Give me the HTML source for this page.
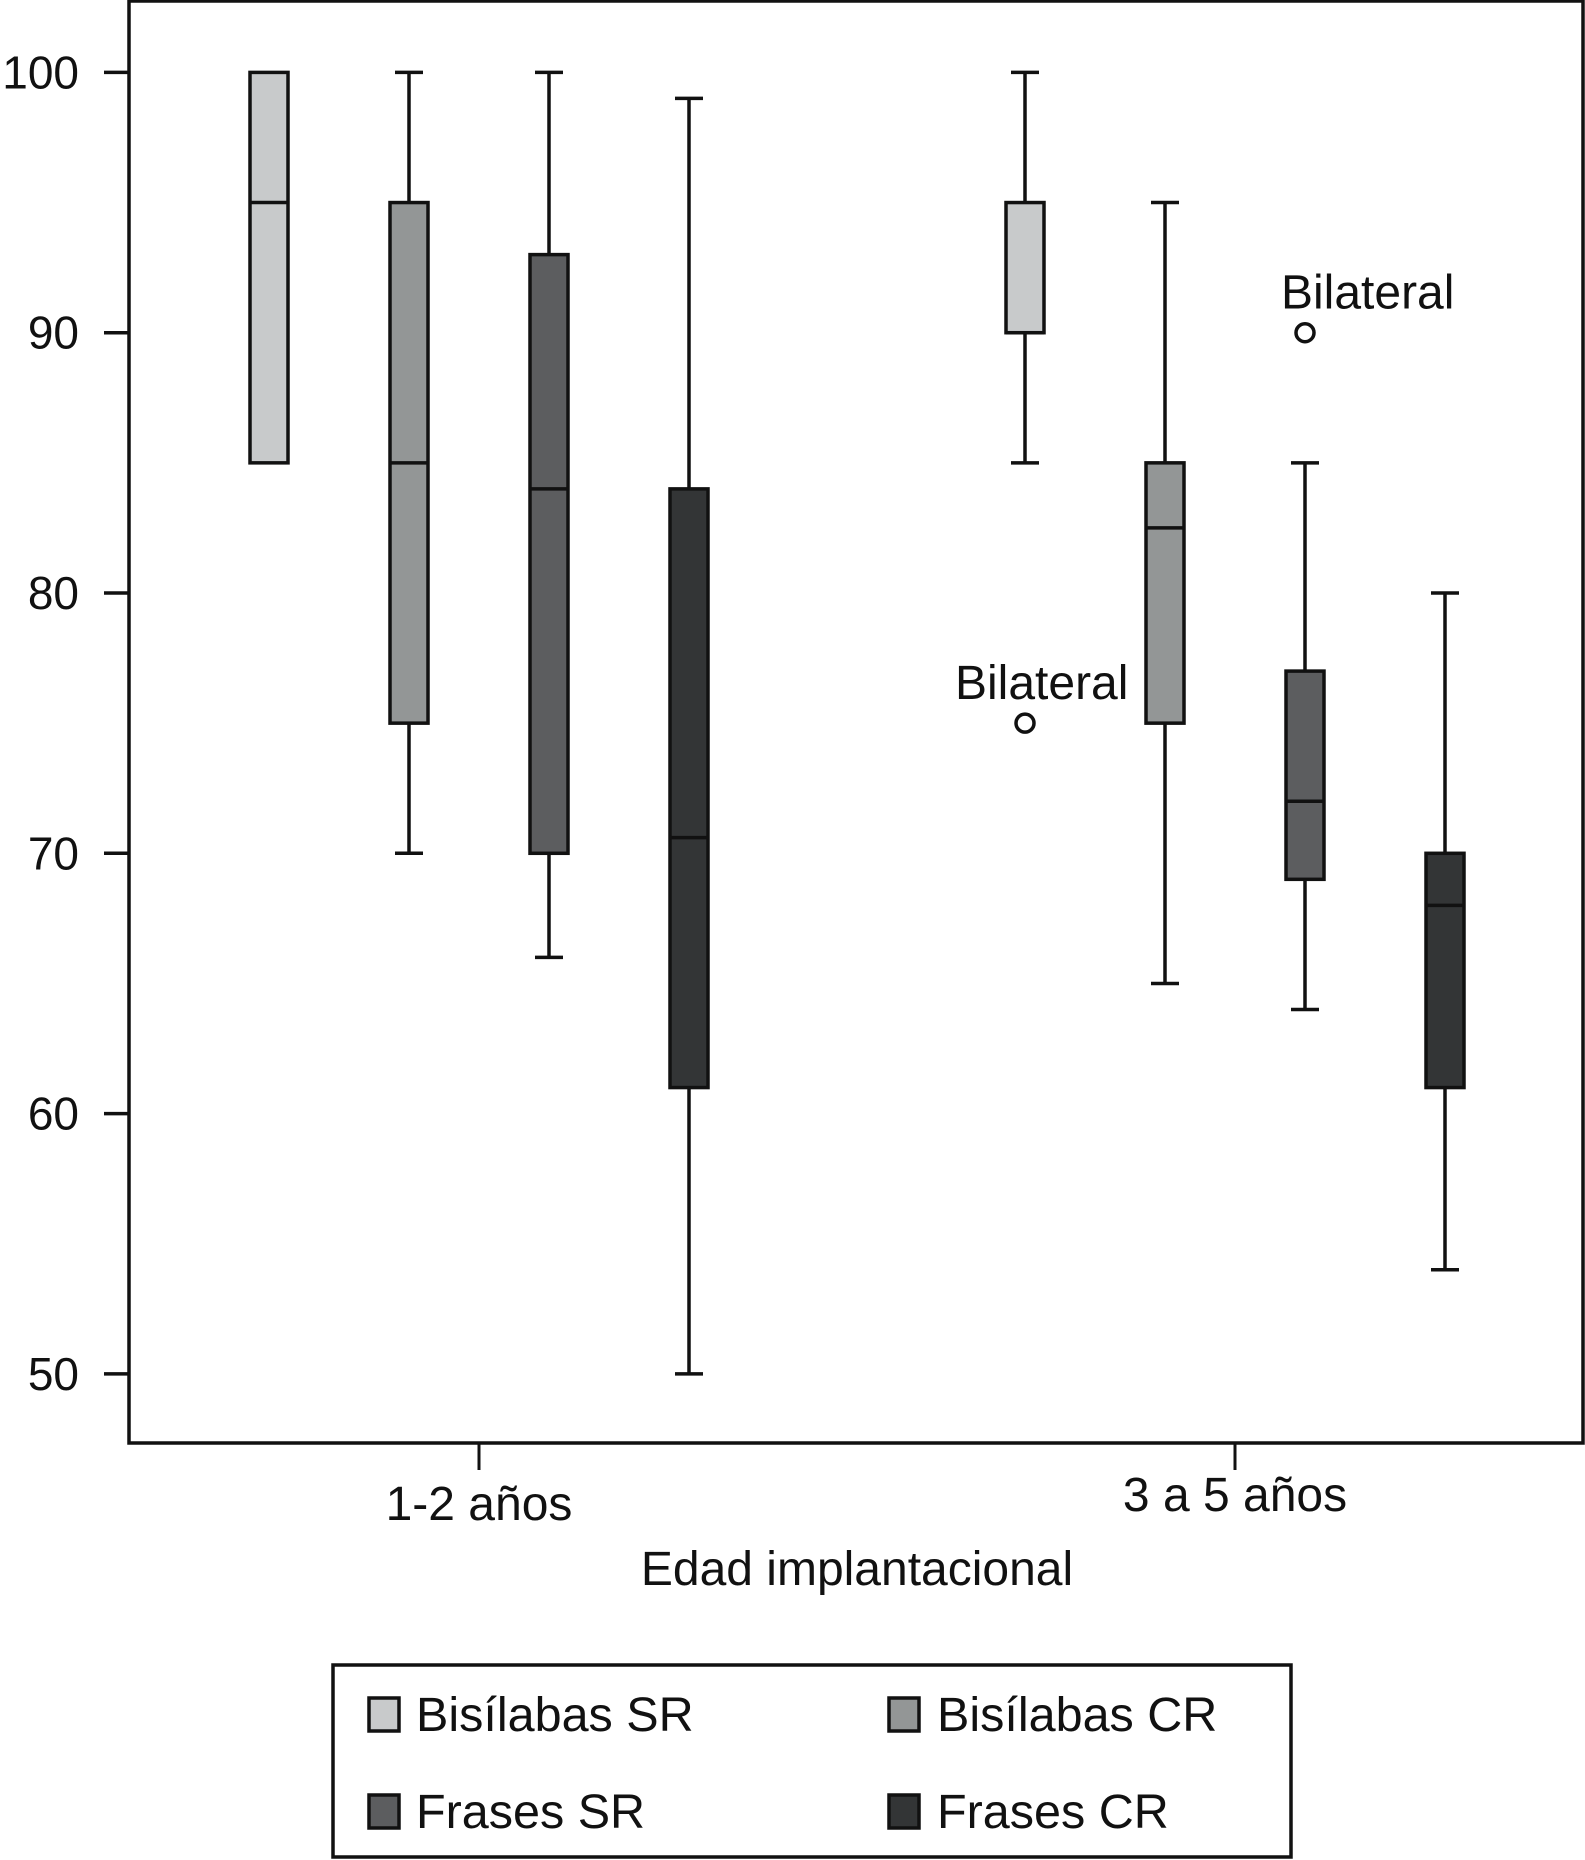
<!DOCTYPE html>
<html><head><meta charset="utf-8"><style>
body{margin:0;background:#fff}
svg{display:block;font-family:"Liberation Sans",sans-serif}
</style></head><body>
<svg id="chart" width="1585" height="1860" viewBox="0 0 1585 1860" xmlns="http://www.w3.org/2000/svg">
<rect x="129" y="1" width="1454" height="1442" fill="#fff" stroke="#111" stroke-width="3.5"/>
<g id="yaxis"></g>
<g id="xaxis"></g>
<g id="boxes"></g>
<text x="857" y="1585" font-size="48" text-anchor="middle" fill="#111">Edad implantacional</text>
<g>
<rect x="333" y="1665" width="958" height="192" fill="#fff" stroke="#111" stroke-width="3.5"/>
<g><rect x="369" y="1698" width="30" height="33" fill="#c8cacb" stroke="#111" stroke-width="3.5"/><text x="416" y="1731" font-size="48.5" fill="#111">Bisílabas SR</text></g>
<g><rect x="889" y="1698" width="30" height="33" fill="#939696" stroke="#111" stroke-width="3.5"/><text x="937" y="1731" font-size="48.5" fill="#111">Bisílabas CR</text></g>
<g><rect x="369" y="1795" width="30" height="33" fill="#5c5d5f" stroke="#111" stroke-width="3.5"/><text x="416" y="1828" font-size="48.5" fill="#111">Frases SR</text></g>
<g><rect x="889" y="1795" width="30" height="33" fill="#333536" stroke="#111" stroke-width="3.5"/><text x="937" y="1828" font-size="48.5" fill="#111">Frases CR</text></g>
</g>
</svg>
<script>
const categories = ["1-2 años", "3 a 5 años"];
const series = ["Bisílabas SR", "Bisílabas CR", "Frases SR", "Frases CR"];
const yTicks = [50, 60, 70, 80, 90, 100];
// per group, per series: [min, q1, median, q3, max]
const group1Stats = [[85, 85, 95, 100, 100], [70, 75, 85, 95, 100], [66, 70, 84, 93, 100], [50, 61, 70.6, 84, 99]];
const group2Stats = [[85, 90, 90, 95, 100], [65, 75, 82.5, 85, 95], [64, 69, 72, 77, 85], [54, 61, 68, 70, 80]];
const outlierGroup = [1, 1];
const outlierSeries = [0, 2];
const outlierValues = [75, 90];
const outlierLabels = ["Bilateral", "Bilateral"];
const colors = ["#c8cacb", "#939696", "#5c5d5f", "#333536"];

const NS = "http://www.w3.org/2000/svg";
const y = v => 72.4 + (100 - v) * 26.03;
const groupCenter = i => 479 + i * 756;
const boxX = (g, s) => groupCenter(g) + (s - 1.5) * 140;
function mk(tag, attrs, parent, text) {
  const e = document.createElementNS(NS, tag);
  for (const k in attrs) e.setAttribute(k, attrs[k]);
  if (text !== undefined) e.textContent = text;
  parent.appendChild(e);
  return e;
}
const yaxis = document.getElementById('yaxis');
yTicks.forEach(t => {
  const l = mk('line', {x1: 104, x2: 129, y1: y(t), y2: y(t), stroke: '#111', 'stroke-width': 3.5}, yaxis);
  
  
  const tx = mk('text', {x: 79, y: y(t) + 16, 'font-size': 46, 'text-anchor': 'end', fill: '#111'}, yaxis, String(t));
  
  
});
const xaxis = document.getElementById('xaxis');
categories.forEach((c, i) => {
  const cx = groupCenter(i);
  const l = mk('line', {x1: cx, x2: cx, y1: 1443, y2: 1470, stroke: '#111', 'stroke-width': 3}, xaxis);
  
  
  const tx = mk('text', {x: cx, y: i === 0 ? 1520 : 1511, 'font-size': 48, 'text-anchor': 'middle', fill: '#111'}, xaxis, c);
  
  
});
const boxes = document.getElementById('boxes');
[group1Stats, group2Stats].forEach((stats, g) => {
  stats.forEach((st, s) => {
    const cx = boxX(g, s), w = 38;
    const grp = mk('g', {}, boxes);
    
    
    const [mn, q1, md, q3, mx] = st;
    if (mx > q3) {
      mk('line', {x1: cx, x2: cx, y1: y(mx), y2: y(q3), stroke: '#111', 'stroke-width': 3.5}, grp);
      mk('line', {x1: cx - 14, x2: cx + 14, y1: y(mx), y2: y(mx), stroke: '#111', 'stroke-width': 3.5}, grp);
    }
    if (mn < q1) {
      mk('line', {x1: cx, x2: cx, y1: y(q1), y2: y(mn), stroke: '#111', 'stroke-width': 3.5}, grp);
      mk('line', {x1: cx - 14, x2: cx + 14, y1: y(mn), y2: y(mn), stroke: '#111', 'stroke-width': 3.5}, grp);
    }
    mk('rect', {x: cx - w / 2, y: y(q3), width: w, height: y(q1) - y(q3), fill: colors[s], stroke: '#111', 'stroke-width': 3.5}, grp);
    mk('line', {x1: cx - w / 2, x2: cx + w / 2, y1: y(md), y2: y(md), stroke: '#111', 'stroke-width': 3.5}, grp);
  });
});
const labelDx = [-70, -24];
outlierValues.forEach((v, i) => {
  const cx = boxX(outlierGroup[i], outlierSeries[i]);
  const c = mk('circle', {cx: cx, cy: y(v), r: 9, fill: '#fff', stroke: '#111', 'stroke-width': 3.5}, boxes);
  
  
  const t = mk('text', {x: cx + labelDx[i], y: y(v) - 24, 'font-size': 48, fill: '#111'}, boxes, outlierLabels[i]);
  
  
});
</script>
</body></html>
